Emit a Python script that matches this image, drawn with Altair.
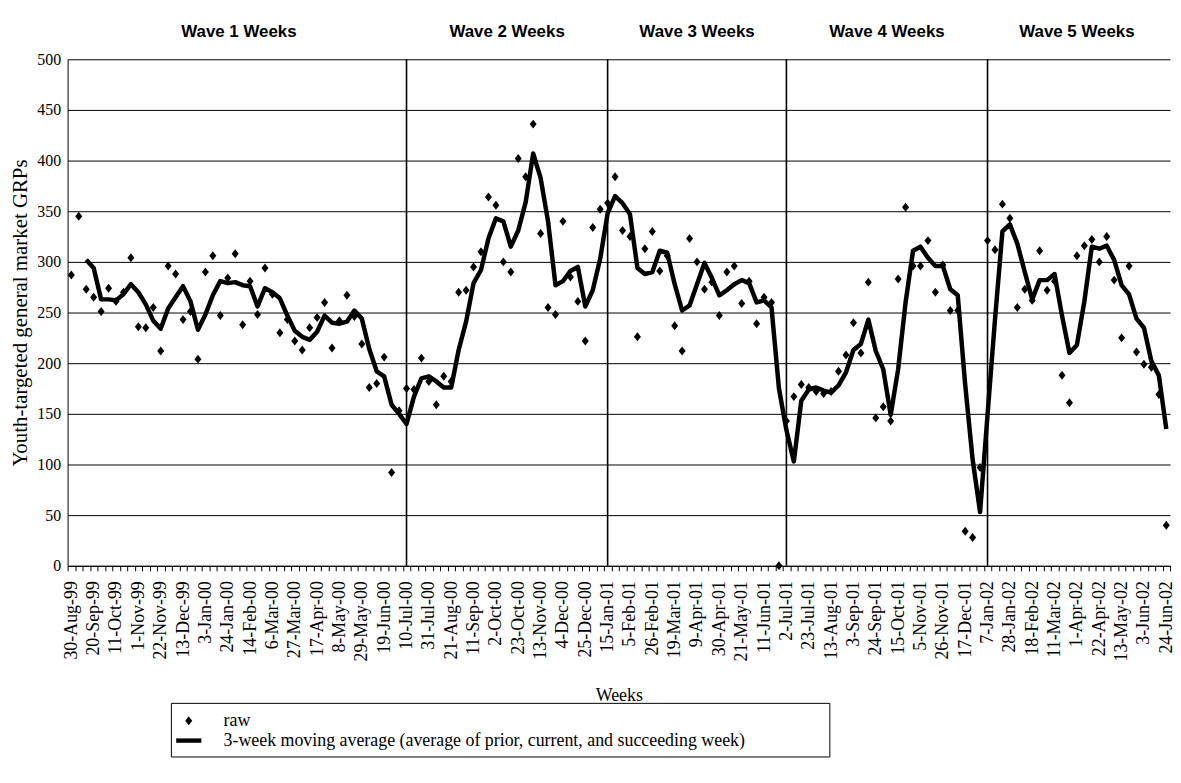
import json
import altair as alt
import pandas as pd

# x-axis tick labels (every third week)
tick_labels = [
    "30-Aug-99", "20-Sep-99", "11-Oct-99", "1-Nov-99", "22-Nov-99", "13-Dec-99",
    "3-Jan-00", "24-Jan-00", "14-Feb-00", "6-Mar-00", "27-Mar-00", "17-Apr-00",
    "8-May-00", "29-May-00", "19-Jun-00", "10-Jul-00", "31-Jul-00", "21-Aug-00",
    "11-Sep-00", "2-Oct-00", "23-Oct-00", "13-Nov-00", "4-Dec-00", "25-Dec-00",
    "15-Jan-01", "5-Feb-01", "26-Feb-01", "19-Mar-01", "9-Apr-01", "30-Apr-01",
    "21-May-01", "11-Jun-01", "2-Jul-01", "23-Jul-01", "13-Aug-01", "3-Sep-01",
    "24-Sep-01", "15-Oct-01", "5-Nov-01", "26-Nov-01", "17-Dec-01", "7-Jan-02",
    "28-Jan-02", "18-Feb-02", "11-Mar-02", "1-Apr-02", "22-Apr-02", "13-May-02",
    "3-Jun-02", "24-Jun-02",
]

# weekly raw GRPs (148 weeks, 30-Aug-99 .. 24-Jun-02)
raw = [
    287, 345, 273, 265, 251, 274, 261, 270, 304, 236,
    235, 255, 212, 296, 288, 243, 251, 204, 290, 306,
    247, 284, 308, 238, 281, 248, 294, 268, 230, 243,
    222, 213, 235, 245, 260, 215, 242, 267, 246, 219,
    176, 180, 206, 92, 153, 175, 174, 205, 182, 159,
    187, 182, 270, 272, 295, 310, 364, 356, 300, 290,
    402, 384, 436, 328, 255, 248, 340, 285, 261, 222,
    334, 352, 358, 384, 331, 325, 226, 313, 330, 291,
    306, 237, 212, 323, 300, 273, 280, 247, 290, 296,
    259, 281, 239, 265, 260, 0, 143, 167, 179, 176,
    172, 170, 172, 192, 208, 240, 210, 280, 146, 157,
    143, 283, 354, 296, 296, 321, 270, 297, 252, 252,
    34, 28, 97, 321, 312, 357, 343, 255, 273, 262,
    311, 272, 281, 188, 161, 306, 316, 322, 300, 325,
    282, 225, 296, 211, 199, 196, 169, 40,
]

# 3-week moving average line as drawn (starts at the third week)
moving_avg = [
    None, None, 302, 294, 263, 263, 262, 268, 278, 270,
    258, 242, 234, 254, 265, 276, 261, 233, 248, 267,
    281, 279, 280, 277, 276, 256, 274, 270, 264, 247,
    232, 226, 223, 231, 247, 240, 239, 241, 252, 244,
    214, 192, 187, 159, 150, 140, 167, 185, 187, 182,
    176, 176, 213, 241, 279, 292, 323, 343, 340, 315,
    331, 359, 407, 383, 340, 277, 281, 291, 295, 256,
    272, 303, 348, 365, 358, 347, 294, 288, 290, 311,
    309, 278, 252, 257, 278, 299, 284, 267, 272, 278,
    282, 279, 260, 262, 255, 175, 134, 103, 163, 174,
    176, 173, 171, 178, 191, 213, 219, 243, 212, 194,
    149, 194, 260, 311, 315, 304, 296, 296, 273, 267,
    179, 105, 53, 149, 243, 330, 337, 318, 290, 263,
    282, 282, 288, 247, 210, 218, 261, 315, 313, 316,
    302, 277, 268, 244, 235, 202, 188, 135,
]

wave_names = ["Wave 1 Weeks", "Wave 2 Weeks", "Wave 3 Weeks", "Wave 4 Weeks", "Wave 5 Weeks"]
wave_start_weeks = ["10-Jul-00", "15-Jan-01", "2-Jul-01", "7-Jan-02"]

RAW_LABEL = "raw"
MA_LABEL = "3-week moving average (average of prior, current, and succeeding week)"

n = len(raw)
weeks = list(range(n))
boundaries = [tick_labels.index(w) * 3 for w in wave_start_weeks]

raw_df = pd.DataFrame({"week": weeks, "grp": raw, "series": RAW_LABEL})
ma_df = pd.DataFrame({"week": weeks, "ma": moving_avg}).dropna()
rule_df = pd.DataFrame({"week": boundaries})
edges = [0] + boundaries + [n - 1]
wave_df = pd.DataFrame({
    "name": wave_names,
    "week": [(edges[i] + edges[i + 1]) / 2 for i in range(len(wave_names))],
})

SERIF = "Liberation Serif"
SANS = "Liberation Sans"

# symbol shapes (unit box -1..1): small diamond marker and a thick bar for the line key
DIAMOND = "M0,-0.41L0.32,0L0,0.41L-0.32,0Z"
BAR = "M-1.15,-0.2L1.15,-0.2L1.15,0.2L-1.15,0.2Z"
SYMBOL_SIZE = 484

label_arr = json.dumps(tick_labels)
label_expr = (
    f"((datum.value + 0.5) % 3 == 0 && (datum.value + 0.5) / 3 < {len(tick_labels)}) ? "
    f"{label_arr}[(datum.value + 0.5) / 3] : ''"
)

x_scale = alt.Scale(domain=[-0.5, n - 0.5], nice=False, zero=False)
x_axis = alt.Axis(
    values=[i - 0.5 for i in range(n + 1)],
    labelExpr=label_expr,
    labelOffset=3.75,
    labelAngle=-90,
    labelOverlap=False,
    labelFont=SERIF,
    labelFontSize=18,
    labelColor="black",
    labelPadding=10,
    tickColor="black",
    tickSize=5,
    domainColor="black",
    grid=False,
    title="Weeks",
    titleFont=SERIF,
    titleFontSize=18,
    titleFontWeight="normal",
    titleColor="black",
    titleY=131,
    titleBaseline="middle",
)

y_scale = alt.Scale(domain=[0, 500], nice=False)
y_axis = alt.Axis(
    values=list(range(0, 501, 50)),
    grid=True,
    gridColor="black",
    gridWidth=1,
    ticks=False,
    domainColor="black",
    labelFont=SERIF,
    labelFontSize=16,
    labelColor="black",
    labelPadding=7,
    title="Youth-targeted general market GRPs",
    titleFont=SERIF,
    titleFontSize=21,
    titleFontWeight="normal",
    titleColor="black",
    titleX=-47,
    titleBaseline="middle",
)

# trailing spacer keeps the legend box as wide as the reference frame
spacer = "\u00a0" * 17 + "\u200b"
legend = alt.Legend(
    title=None,
    orient="none",
    legendX=104,
    legendY=648,
    direction="vertical",
    fillColor="white",
    strokeColor="black",
    padding=7,
    labelFont=SERIF,
    labelFontSize=18,
    labelColor="black",
    labelLimit=0,
    labelOffset=24,
    labelExpr=f"datum.label == '{RAW_LABEL}' ? datum.label : datum.label + '{spacer}'",
    symbolFillColor="black",
    symbolStrokeColor="black",
    symbolStrokeWidth=0,
    symbolSize=SYMBOL_SIZE,
    symbolOpacity=1,
    rowPadding=0,
)

rules = alt.Chart(rule_df).mark_rule(color="black", strokeWidth=1.6).encode(
    x=alt.X("week:Q", scale=x_scale, axis=x_axis)
)

ma_line = alt.Chart(ma_df).mark_line(color="black", strokeWidth=4.5, strokeJoin="round").encode(
    x=alt.X("week:Q", scale=x_scale, axis=x_axis),
    y=alt.Y("ma:Q", scale=y_scale, axis=y_axis),
)

points = alt.Chart(raw_df).mark_point(
    filled=True, color="black", opacity=1, size=SYMBOL_SIZE, strokeWidth=0
).encode(
    x=alt.X("week:Q", scale=x_scale, axis=x_axis),
    y=alt.Y("grp:Q", scale=y_scale, axis=y_axis),
    shape=alt.Shape(
        "series:N",
        scale=alt.Scale(domain=[RAW_LABEL, MA_LABEL], range=[DIAMOND, BAR]),
        legend=legend,
    ),
)

wave_text = alt.Chart(wave_df).mark_text(
    font=SANS, fontSize=17, fontWeight="bold", color="black", baseline="middle", align="center"
).encode(
    x=alt.X("week:Q", scale=x_scale, axis=x_axis),
    y=alt.value(-27),
    text="name:N",
)

chart = (
    alt.layer(rules, ma_line, points, wave_text)
    .properties(
        width=1110,
        height=510,
        autosize=alt.AutoSizeParams(type="none"),
        padding={"left": 60, "top": 49, "right": 3, "bottom": 205},
    )
    .configure(background="white", font=SERIF)
    .configure_view(stroke=None)
    .configure_axis(labelFont=SERIF, titleFont=SERIF)
    .configure_legend(labelFont=SERIF)
)

chart.save("out.html", embed_options={"renderer": "svg", "actions": False})
